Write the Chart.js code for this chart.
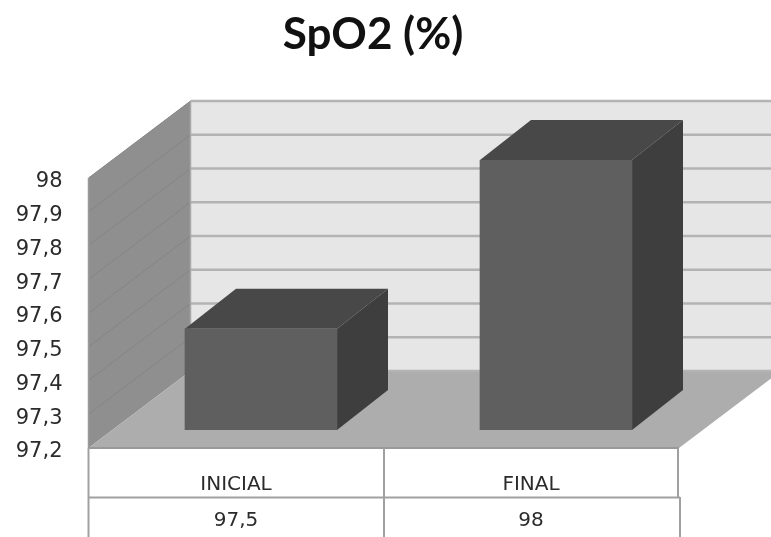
<!DOCTYPE html>
<html>
<head>
<meta charset="utf-8">
<title>SpO2 (%)</title>
<script src="https://cdn.jsdelivr.net/npm/chart.js@4"></script>
<style>
  html, body { margin: 0; padding: 0; background: #fff; }
  canvas { display: block; }
</style>
</head>
<body>
<canvas id="spo2" width="771" height="537"></canvas>
<script>
const titleText = 'SpO2 (%)';
const categories = ['INICIAL', 'FINAL'];
const values = [97.5, 98];
const valueLabels = ['97,5', '98'];
const tickValues = [97.2, 97.3, 97.4, 97.5, 97.6, 97.7, 97.8, 97.9, 98];
const tickLabels = ['97,2', '97,3', '97,4', '97,5', '97,6', '97,7', '97,8', '97,9', '98'];

const textFont = 'DejaVu Sans';
const textColor = '#2b2b2b';

// offsets of the 3D box, relative to the plane the bars stand on
const axisDrop = 18;      // front edge of the left wall sits below the bars
const wallRise = 59;      // back wall sits above the bars
const wallShift = 102;    // horizontal depth of the box
const barDepthX = 51;
const barDepthY = 40;

function poly(ctx, pts, fill) {
  ctx.fillStyle = fill;
  ctx.beginPath();
  pts.forEach((p, i) => i ? ctx.lineTo(p[0], p[1]) : ctx.moveTo(p[0], p[1]));
  ctx.closePath();
  ctx.fill();
}

function line(ctx, x1, y1, x2, y2, color, width) {
  ctx.strokeStyle = color;
  ctx.lineWidth = width;
  ctx.beginPath();
  ctx.moveTo(x1, y1);
  ctx.lineTo(x2, y2);
  ctx.stroke();
}

const box3d = {
  id: 'box3d',
  beforeDatasetsDraw(chart) {
    const ctx = chart.ctx;
    const y = chart.scales.y;
    const front = 88.5;
    const frontRight = 679;
    const back = front + wallShift;
    const yTop = y.getPixelForValue(98);
    const yBase = y.getPixelForValue(97.2);

    ctx.save();
    // back wall, left wall, floor
    poly(ctx, [[back, yTop - wallRise], [771, yTop - wallRise], [771, yBase - wallRise], [back, yBase - wallRise]], '#e6e6e6');
    poly(ctx, [[front, yTop + axisDrop], [back, yTop - wallRise], [back, yBase - wallRise], [front, yBase + axisDrop]], '#8f8f8f');
    poly(ctx, [[front, yBase + axisDrop], [back, yBase - wallRise], [frontRight + wallShift, yBase - wallRise], [frontRight, yBase + axisDrop]], '#adadad');

    // gridlines run along the left wall and across the back
    tickValues.forEach(v => {
      const py = y.getPixelForValue(v);
      if (v !== 97.2) line(ctx, front, py + axisDrop, back, py - wallRise, '#858585', 1);
      line(ctx, back, py - wallRise, 771, py - wallRise, '#b3b3b3', 2.5);
    });
    line(ctx, back, yTop - wallRise, back, yBase - wallRise, '#a8a8a8', 1.5);
    line(ctx, front, yTop + axisDrop, front, yBase + axisDrop, '#9a9a9a', 1.5);

    // top and side faces of each bar
    chart.getDatasetMeta(0).data.forEach(bar => {
      const l = bar.x - bar.width / 2;
      const r = bar.x + bar.width / 2;
      poly(ctx, [[l, bar.y], [l + barDepthX, bar.y - barDepthY], [r + barDepthX, bar.y - barDepthY], [r, bar.y]], '#484848');
      poly(ctx, [[r, bar.y], [r + barDepthX, bar.y - barDepthY], [r + barDepthX, yBase - barDepthY], [r, yBase]], '#3e3e3e');
    });

    // data table under the floor
    const tableTop = yBase + axisDrop;
    line(ctx, front, tableTop, frontRight, tableTop, '#999999', 2);
    line(ctx, front, 497.5, 680, 497.5, '#a0a0a0', 2);
    line(ctx, front, tableTop, front, 537, '#a0a0a0', 2);
    line(ctx, 384, tableTop, 384, 537, '#a0a0a0', 2);
    line(ctx, 678, tableTop, 678, 497, '#a0a0a0', 2);
    line(ctx, 680, 497, 680, 537, '#a0a0a0', 2);
    ctx.restore();
  },
  afterDraw(chart) {
    const ctx = chart.ctx;
    ctx.save();
    ctx.fillStyle = '#111111';
    ctx.font = 'bold 44px Lato';
    ctx.textAlign = 'center';
    ctx.textBaseline = 'middle';
    ctx.fillText(titleText, 373, 35);
    ctx.restore();
  }
};

new Chart(document.getElementById('spo2').getContext('2d'), {
  type: 'bar',
  data: {
    labels: categories.map((c, i) => [c, valueLabels[i]]),
    datasets: [{
      label: titleText,
      data: values,
      base: 97.2,
      backgroundColor: '#5f5f5f',
      borderWidth: 0,
      barThickness: 152
    }]
  },
  options: {
    responsive: false,
    animation: false,
    layout: { padding: { top: 160, right: 67.5, left: 0, bottom: 0 } },
    plugins: {
      legend: { display: false },
      title: { display: false },
      tooltip: { enabled: false }
    },
    scales: {
      x: {
        grid: { display: false, drawTicks: false },
        border: { display: false },
        afterFit: s => { s.height = 107; },
        ticks: {
          autoSkip: false,
          maxRotation: 0,
          labelOffset: -25,
          padding: 37,
          color: textColor,
          font: { family: textFont, size: 20, lineHeight: 1.8 }
        }
      },
      y: {
        min: 97.2,
        max: 98,
        grid: { display: false, drawTicks: false },
        border: { display: false },
        afterFit: s => { s.width = 113.5; },
        ticks: {
          stepSize: 0.1,
          labelOffset: axisDrop + 4,
          padding: 51,
          color: textColor,
          font: { family: textFont, size: 21 },
          callback: (v, i) => tickLabels[i]
        }
      }
    }
  },
  plugins: [box3d]
});
</script>
</body>
</html>
